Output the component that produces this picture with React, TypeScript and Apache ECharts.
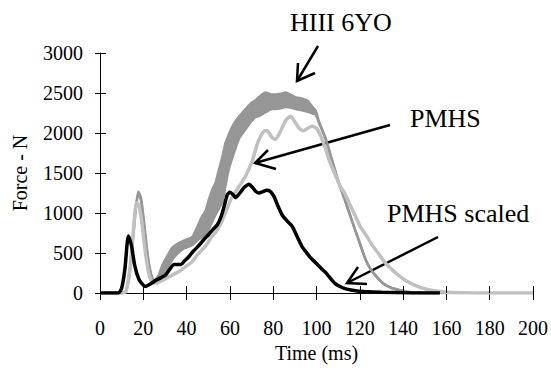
import React, { useEffect, useRef } from "react";
import * as echarts from "echarts";

// ---- Data ----
const xTicks = [0, 20, 40, 60, 80, 100, 120, 140, 160, 180, 200];
const yTicks = [0, 500, 1000, 1500, 2000, 2500, 3000];

// HIII 6YO corridor: lower and upper edge (N) at common times (ms)
const hiiiTime = [0, 10, 12, 14, 16, 17.7, 19, 20.5, 22, 23.5, 25, 27, 29, 31, 33.4, 36, 39, 42.6, 45, 47, 48.8, 50.3, 52, 53.4, 55, 56.5, 58, 59.5, 61.1, 64.2, 67.3, 70, 71.9, 73.4, 76.5, 79.6, 81.2, 83.5, 85.8, 88, 90.4, 93.4, 96, 98, 99.6, 101.2, 104.2, 107.3, 110.4, 113.5, 116.5, 119.6, 122.7, 125, 127.3, 130, 132, 135, 138, 142, 146, 150, 160];
const hiiiLower = [0, 0, 20, 300, 900, 1250, 1150, 800, 450, 220, 140, 170, 230, 300, 420, 500, 560, 600, 660, 700, 740, 800, 900, 980, 1060, 1140, 1350, 1550, 1690, 1930, 2050, 2150, 2200, 2210, 2260, 2300, 2300, 2310, 2325, 2320, 2300, 2285, 2265, 2245, 2230, 2125, 1930, 1648, 1371, 1132, 894, 655, 417, 300, 218, 140, 99, 60, 40, 18, 6, 0, 0];
const hiiiUpper = [0, 0, 30, 330, 950, 1271, 1180, 850, 480, 250, 150, 220, 360, 460, 570, 620, 660, 700, 830, 950, 1030, 1170, 1300, 1380, 1550, 1700, 1880, 1980, 2080, 2205, 2300, 2380, 2410, 2450, 2505, 2480, 2480, 2490, 2505, 2480, 2445, 2430, 2400, 2330, 2280, 2140, 1930, 1648, 1371, 1132, 894, 655, 417, 300, 218, 140, 99, 60, 40, 18, 6, 0, 0];

// PMHS
const pmhsTime = [0, 10, 12, 14, 15.5, 16.8, 18, 19.5, 21, 22.5, 24, 26, 28, 30.3, 33, 36.5, 40, 42.5, 45, 48.8, 51, 53.4, 56, 58, 61, 64.2, 67, 70.3, 72.5, 74.2, 76, 77.3, 79, 81, 83, 85.8, 88, 90, 92, 94, 96, 98, 100, 102, 104, 106, 108.8, 111, 113, 115, 118, 120, 123, 126, 129, 132, 135, 138, 141, 144, 147, 150, 153, 156, 160, 170, 180, 200];
const pmhsForce = [0, 0, 20, 350, 800, 1130, 1100, 850, 500, 250, 140, 125, 150, 180, 220, 270, 340, 390, 480, 590, 680, 760, 880, 1010, 1200, 1330, 1450, 1650, 1850, 1960, 2030, 2030, 1960, 1920, 2000, 2160, 2210, 2140, 2060, 2030, 2060, 2085, 2060, 1960, 1820, 1650, 1470, 1330, 1250, 1130, 960, 840, 720, 590, 480, 370, 290, 220, 160, 115, 80, 55, 35, 22, 12, 4, 0, 0];

// PMHS scaled
const scaledTime = [0, 8.5, 10, 11.5, 13.1, 14.5, 16, 18, 20, 21.1, 23, 25.7, 28, 30.3, 32, 34.2, 37.3, 39, 41.1, 43, 45.7, 48, 50.3, 52, 54.2, 56, 57.5, 58.8, 60, 61.5, 62.6, 64, 65.7, 67, 68.8, 70.5, 72, 73.4, 75, 77, 78.5, 80.3, 82, 84.2, 86.5, 88.8, 91, 93.4, 95, 97, 99.6, 102.6, 104.2, 107.2, 109, 111.8, 114, 118, 122, 130, 140, 150, 157];
const scaledForce = [0, 0, 60, 300, 715, 600, 350, 170, 100, 83, 110, 159, 190, 226, 290, 357, 357, 400, 457, 520, 596, 670, 735, 790, 854, 960, 1100, 1231, 1260, 1230, 1192, 1230, 1291, 1330, 1359, 1320, 1270, 1251, 1265, 1285, 1275, 1212, 1100, 973, 900, 834, 710, 576, 520, 450, 380, 298, 258, 159, 110, 70, 50, 30, 20, 10, 4, 1, 0];

const labels = ["HIII 6YO", "PMHS", "PMHS scaled"];

const DARK = "#969696";
const LIGHT = "#c0c0c0";
const FONT = "Liberation Serif";

const zip = (xs: number[], ys: number[]) => xs.map((x, i) => [x, ys[i]]);

export default function App() {
  const ref = useRef<HTMLDivElement>(null);
  useEffect(() => {
    if (!ref.current) return;
    const chart = echarts.init(ref.current, null, { renderer: "svg" });
    const arrowStyle = { stroke: "#000", lineWidth: 2.5, fill: "none" };
    const xMin = xTicks[0], xMax = xTicks[xTicks.length - 1], xInt = xTicks[1] - xTicks[0];
    const yMin = yTicks[0], yMax = yTicks[yTicks.length - 1], yInt = yTicks[1] - yTicks[0];
    const fmt = (v: number) => String(v);
    const baseX = {
      type: "value", min: xMin, max: xMax, interval: xInt, position: "bottom",
      splitLine: { show: false },
    };
    const baseY = {
      type: "value", min: yMin, max: yMax, interval: yInt, position: "left",
      splitLine: { show: false },
    };
    const bandData = hiiiTime.map((t, i) => [t, hiiiLower[i], hiiiUpper[i]]);
    chart.setOption({
      animation: false,
      backgroundColor: "#fff",
      grid: { left: 100, right: 17, top: 53, bottom: 63, containLabel: false },
      xAxis: [
        {
          ...baseX,
          name: "Time (ms)", nameLocation: "middle", nameGap: 42,
          nameTextStyle: { fontFamily: FONT, fontSize: 20, color: "#000" },
          axisLine: { show: true, lineStyle: { color: "#000", width: 1 } },
          axisTick: { show: true, length: 7, lineStyle: { color: "#000" } },
          axisLabel: { margin: 25, fontFamily: FONT, fontSize: 20, color: "#000", formatter: fmt },
        },
        {
          ...baseX,
          z: 10,
          axisLine: { show: false },
          axisTick: { show: true, inside: true, length: 7, lineStyle: { color: "#000" } },
          axisLabel: { show: false },
        },
      ],
      yAxis: [
        {
          ...baseY,
          name: "Force - N", nameLocation: "middle", nameGap: 70, nameRotate: 90,
          nameTextStyle: { fontFamily: FONT, fontSize: 20, color: "#000" },
          axisLine: { show: true, lineStyle: { color: "#000", width: 1 } },
          axisTick: { show: true, length: 5, lineStyle: { color: "#000" } },
          axisLabel: { margin: 17, fontFamily: FONT, fontSize: 20, color: "#000", formatter: fmt },
        },
        {
          ...baseY,
          z: 10,
          axisLine: { show: false },
          axisTick: { show: true, inside: true, length: 6, lineStyle: { color: "#000" } },
          axisLabel: { show: false },
        },
      ],
      series: [
        {
          name: "HIII band", type: "custom",
          data: bandData,
          encode: { x: 0, y: [1, 2] },
          renderItem: (params: any, api: any) => {
            if (params.dataIndex !== 0) return null;
            const up = bandData.map((d) => api.coord([d[0], d[2]]));
            const lo = bandData.map((d) => api.coord([d[0], d[1]])).reverse();
            return {
              type: "polygon",
              shape: { points: up.concat(lo) },
              style: { fill: DARK, stroke: "none" },
            };
          },
        },
        {
          name: "HIII low", type: "line", symbol: "none", smooth: 0.2,
          data: zip(hiiiTime, hiiiLower),
          lineStyle: { color: DARK, width: 2.5 }, itemStyle: { color: DARK },
        },
        {
          name: "HIII high", type: "line", symbol: "none", smooth: 0.2,
          data: zip(hiiiTime, hiiiUpper),
          lineStyle: { color: DARK, width: 2.5 }, itemStyle: { color: DARK },
        },
        {
          name: "PMHS", type: "line", symbol: "none", smooth: 0.2,
          data: zip(pmhsTime, pmhsForce),
          lineStyle: { color: LIGHT, width: 3.5 }, itemStyle: { color: LIGHT },
        },
        {
          name: "PMHS scaled", type: "line", symbol: "none", smooth: 0.2,
          data: zip(scaledTime, scaledForce),
          lineStyle: { color: "#000", width: 3.5 }, itemStyle: { color: "#000" },
        },
      ],
      graphic: [
        { type: "text", left: 290, top: 9, style: { text: labels[0], fontFamily: FONT, fontSize: 26, fill: "#000" } },
        { type: "text", left: 410, top: 105, style: { text: labels[1], fontFamily: FONT, fontSize: 26, fill: "#000" } },
        { type: "text", left: 387, top: 200, style: { text: labels[2], fontFamily: FONT, fontSize: 26, fill: "#000" } },
        // HIII arrow
        { type: "line", shape: { x1: 318, y1: 46, x2: 297, y2: 81 }, style: arrowStyle },
        { type: "polyline", shape: { points: [[298, 63], [297, 81], [315, 73]] }, style: arrowStyle },
        // PMHS arrow
        { type: "line", shape: { x1: 390, y1: 125, x2: 255, y2: 163 }, style: arrowStyle },
        { type: "polyline", shape: { points: [[268, 150], [255, 163], [276, 169]] }, style: arrowStyle },
        // PMHS scaled arrow
        { type: "line", shape: { x1: 438, y1: 237, x2: 347, y2: 283 }, style: arrowStyle },
        { type: "polyline", shape: { points: [[358, 267], [347, 283], [367, 284]] }, style: arrowStyle },
      ],
    });
    return () => chart.dispose();
  }, []);
  return <div ref={ref} style={{ width: 551, height: 368, position: "absolute", left: 0, top: 0 }} />;
}
